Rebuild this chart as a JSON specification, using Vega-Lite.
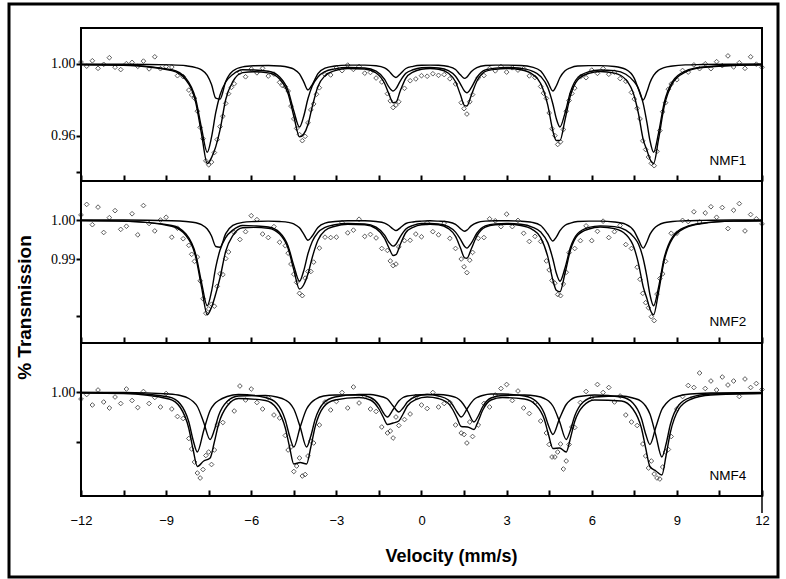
{
"$schema": "https://vega.github.io/schema/vega-lite/v6.json",
"width": 769, "height": 573,
"autosize": {"type": "none"},
"padding": {"left": 9, "top": 4, "right": 8, "bottom": 2},
"background": "white",
"config": {
 "view": {"stroke": "black", "strokeWidth": 3},
 "axis": {"grid": false, "domain": false, "ticks": true, "tickColor": "#000000", "tickOpacity": 1, "labelColor": "black", "titleColor": "black", "tickWidth": 2}
},
"datasets": {
"p1": [{"v":-12.0,"y":1.0011},{"v":-11.8,"y":0.9988},{"v":-11.6,"y":1.0018},{"v":-11.4,"y":0.9976},{"v":-11.2,"y":0.9998},{"v":-11.0,"y":1.0035},{"v":-10.8,"y":0.9982},{"v":-10.6,"y":0.9969},{"v":-10.4,"y":1.0002},{"v":-10.2,"y":1.0009},{"v":-10.0,"y":0.9987},{"v":-9.8,"y":1.0016},{"v":-9.6,"y":0.9973},{"v":-9.4,"y":1.0040},{"v":-9.2,"y":0.9974},{"v":-9.0,"y":0.9986},{"v":-8.8,"y":0.9983},{"v":-8.6,"y":0.9935},{"v":-8.4,"y":0.9930},{"v":-8.2,"y":0.9855},{"v":-8.1,"y":0.9828},{"v":-8.0,"y":0.9810},{"v":-7.9,"y":0.9738},{"v":-7.8,"y":0.9648},{"v":-7.7,"y":0.9585},{"v":-7.6,"y":0.9462},{"v":-7.5,"y":0.9440},{"v":-7.4,"y":0.9455},{"v":-7.3,"y":0.9508},{"v":-7.2,"y":0.9580},{"v":-7.1,"y":0.9652},{"v":-7.0,"y":0.9710},{"v":-6.9,"y":0.9781},{"v":-6.8,"y":0.9835},{"v":-6.7,"y":0.9870},{"v":-6.6,"y":0.9890},{"v":-6.4,"y":0.9953},{"v":-6.2,"y":0.9929},{"v":-6.0,"y":0.9972},{"v":-5.8,"y":0.9951},{"v":-5.6,"y":0.9976},{"v":-5.4,"y":0.9933},{"v":-5.2,"y":0.9944},{"v":-5.0,"y":0.9898},{"v":-4.9,"y":0.9880},{"v":-4.8,"y":0.9874},{"v":-4.7,"y":0.9850},{"v":-4.6,"y":0.9766},{"v":-4.5,"y":0.9695},{"v":-4.4,"y":0.9642},{"v":-4.3,"y":0.9608},{"v":-4.2,"y":0.9574},{"v":-4.1,"y":0.9598},{"v":-4.0,"y":0.9673},{"v":-3.9,"y":0.9745},{"v":-3.8,"y":0.9778},{"v":-3.7,"y":0.9832},{"v":-3.6,"y":0.9868},{"v":-3.4,"y":0.9941},{"v":-3.2,"y":0.9939},{"v":-3.0,"y":0.9978},{"v":-2.8,"y":0.9963},{"v":-2.6,"y":0.9994},{"v":-2.4,"y":0.9970},{"v":-2.2,"y":0.9986},{"v":-2.0,"y":0.9949},{"v":-1.8,"y":0.9953},{"v":-1.6,"y":0.9922},{"v":-1.4,"y":0.9900},{"v":-1.2,"y":0.9835},{"v":-1.1,"y":0.9795},{"v":-1.0,"y":0.9758},{"v":-0.9,"y":0.9772},{"v":-0.8,"y":0.9790},{"v":-0.6,"y":0.9865},{"v":-0.4,"y":0.9907},{"v":-0.2,"y":0.9917},{"v":0.0,"y":0.9935},{"v":0.2,"y":0.9932},{"v":0.4,"y":0.9946},{"v":0.6,"y":0.9937},{"v":0.8,"y":0.9941},{"v":1.0,"y":0.9918},{"v":1.2,"y":0.9889},{"v":1.4,"y":0.9785},{"v":1.5,"y":0.9752},{"v":1.6,"y":0.9722},{"v":1.7,"y":0.9790},{"v":1.8,"y":0.9830},{"v":2.0,"y":0.9923},{"v":2.2,"y":0.9936},{"v":2.4,"y":0.9975},{"v":2.6,"y":0.9962},{"v":2.8,"y":0.9986},{"v":3.0,"y":0.9955},{"v":3.2,"y":0.9979},{"v":3.4,"y":0.9966},{"v":3.6,"y":0.9974},{"v":3.8,"y":0.9934},{"v":4.0,"y":0.9925},{"v":4.2,"y":0.9875},{"v":4.3,"y":0.9838},{"v":4.4,"y":0.9809},{"v":4.5,"y":0.9728},{"v":4.6,"y":0.9640},{"v":4.7,"y":0.9602},{"v":4.8,"y":0.9553},{"v":4.9,"y":0.9568},{"v":5.0,"y":0.9636},{"v":5.1,"y":0.9738},{"v":5.2,"y":0.9797},{"v":5.3,"y":0.9836},{"v":5.4,"y":0.9866},{"v":5.6,"y":0.9929},{"v":5.8,"y":0.9924},{"v":6.0,"y":0.9966},{"v":6.2,"y":0.9948},{"v":6.4,"y":0.9975},{"v":6.6,"y":0.9943},{"v":6.8,"y":0.9955},{"v":7.0,"y":0.9919},{"v":7.2,"y":0.9904},{"v":7.4,"y":0.9842},{"v":7.5,"y":0.9805},{"v":7.6,"y":0.9754},{"v":7.7,"y":0.9695},{"v":7.8,"y":0.9573},{"v":7.9,"y":0.9525},{"v":8.0,"y":0.9483},{"v":8.1,"y":0.9448},{"v":8.2,"y":0.9435},{"v":8.3,"y":0.9515},{"v":8.4,"y":0.9630},{"v":8.5,"y":0.9735},{"v":8.6,"y":0.9785},{"v":8.7,"y":0.9860},{"v":8.8,"y":0.9889},{"v":9.0,"y":0.9913},{"v":9.2,"y":0.9964},{"v":9.4,"y":0.9955},{"v":9.6,"y":0.9995},{"v":9.8,"y":0.9974},{"v":10.0,"y":1.0001},{"v":10.2,"y":0.9974},{"v":10.4,"y":1.0013},{"v":10.6,"y":0.9991},{"v":10.8,"y":1.0045},{"v":11.0,"y":0.9984},{"v":11.2,"y":1.0007},{"v":11.4,"y":0.9976},{"v":11.6,"y":1.0040},{"v":11.8,"y":0.9999},{"v":12.0,"y":0.9982}],
"p2": [{"v":-12.0,"y":1.0013},{"v":-11.8,"y":1.0040},{"v":-11.6,"y":0.9988},{"v":-11.4,"y":1.0033},{"v":-11.2,"y":0.9968},{"v":-11.0,"y":1.0006},{"v":-10.8,"y":1.0024},{"v":-10.6,"y":0.9976},{"v":-10.4,"y":0.9984},{"v":-10.2,"y":1.0016},{"v":-10.0,"y":0.9962},{"v":-9.8,"y":1.0037},{"v":-9.6,"y":0.9991},{"v":-9.4,"y":0.9972},{"v":-9.2,"y":1.0000},{"v":-9.0,"y":1.0007},{"v":-8.8,"y":0.9956},{"v":-8.6,"y":0.9979},{"v":-8.4,"y":0.9952},{"v":-8.2,"y":0.9935},{"v":-8.1,"y":0.9912},{"v":-8.0,"y":0.9894},{"v":-7.9,"y":0.9905},{"v":-7.8,"y":0.9844},{"v":-7.7,"y":0.9798},{"v":-7.6,"y":0.9761},{"v":-7.5,"y":0.9772},{"v":-7.4,"y":0.9784},{"v":-7.3,"y":0.9779},{"v":-7.2,"y":0.9830},{"v":-7.1,"y":0.9862},{"v":-7.0,"y":0.9860},{"v":-6.9,"y":0.9901},{"v":-6.8,"y":0.9918},{"v":-6.6,"y":0.9968},{"v":-6.4,"y":0.9950},{"v":-6.2,"y":0.9970},{"v":-6.0,"y":1.0011},{"v":-5.8,"y":1.0001},{"v":-5.6,"y":0.9964},{"v":-5.4,"y":0.9955},{"v":-5.2,"y":0.9983},{"v":-5.0,"y":0.9943},{"v":-4.8,"y":0.9934},{"v":-4.7,"y":0.9915},{"v":-4.6,"y":0.9887},{"v":-4.5,"y":0.9861},{"v":-4.4,"y":0.9840},{"v":-4.3,"y":0.9812},{"v":-4.2,"y":0.9806},{"v":-4.1,"y":0.9851},{"v":-4.0,"y":0.9868},{"v":-3.9,"y":0.9868},{"v":-3.8,"y":0.9892},{"v":-3.6,"y":0.9928},{"v":-3.4,"y":0.9956},{"v":-3.2,"y":0.9955},{"v":-3.0,"y":0.9956},{"v":-2.8,"y":0.9993},{"v":-2.6,"y":0.9967},{"v":-2.4,"y":0.9974},{"v":-2.2,"y":1.0002},{"v":-2.0,"y":0.9958},{"v":-1.8,"y":0.9963},{"v":-1.6,"y":0.9954},{"v":-1.4,"y":0.9927},{"v":-1.2,"y":0.9922},{"v":-1.1,"y":0.9895},{"v":-1.0,"y":0.9883},{"v":-0.9,"y":0.9887},{"v":-0.8,"y":0.9931},{"v":-0.6,"y":0.9947},{"v":-0.4,"y":0.9948},{"v":-0.2,"y":0.9964},{"v":0.0,"y":0.9957},{"v":0.2,"y":0.9993},{"v":0.4,"y":0.9970},{"v":0.6,"y":0.9962},{"v":0.8,"y":0.9992},{"v":1.0,"y":0.9953},{"v":1.2,"y":0.9927},{"v":1.4,"y":0.9900},{"v":1.5,"y":0.9880},{"v":1.6,"y":0.9865},{"v":1.7,"y":0.9897},{"v":1.8,"y":0.9917},{"v":2.0,"y":0.9953},{"v":2.2,"y":0.9955},{"v":2.4,"y":1.0003},{"v":2.6,"y":0.9998},{"v":2.8,"y":0.9983},{"v":3.0,"y":1.0015},{"v":3.2,"y":0.9983},{"v":3.4,"y":0.9999},{"v":3.6,"y":0.9966},{"v":3.8,"y":0.9945},{"v":4.0,"y":0.9958},{"v":4.2,"y":0.9945},{"v":4.4,"y":0.9895},{"v":4.5,"y":0.9872},{"v":4.6,"y":0.9845},{"v":4.7,"y":0.9838},{"v":4.8,"y":0.9809},{"v":4.9,"y":0.9806},{"v":5.0,"y":0.9836},{"v":5.1,"y":0.9866},{"v":5.2,"y":0.9916},{"v":5.4,"y":0.9927},{"v":5.6,"y":0.9947},{"v":5.8,"y":0.9985},{"v":6.0,"y":0.9947},{"v":6.2,"y":0.9971},{"v":6.4,"y":0.9997},{"v":6.6,"y":0.9955},{"v":6.8,"y":0.9970},{"v":7.0,"y":0.9986},{"v":7.2,"y":0.9937},{"v":7.4,"y":0.9927},{"v":7.6,"y":0.9879},{"v":7.7,"y":0.9848},{"v":7.8,"y":0.9812},{"v":7.9,"y":0.9788},{"v":8.0,"y":0.9775},{"v":8.1,"y":0.9752},{"v":8.2,"y":0.9742},{"v":8.3,"y":0.9810},{"v":8.4,"y":0.9850},{"v":8.5,"y":0.9862},{"v":8.6,"y":0.9894},{"v":8.8,"y":0.9966},{"v":9.0,"y":0.9966},{"v":9.2,"y":0.9999},{"v":9.4,"y":0.9996},{"v":9.6,"y":1.0021},{"v":9.8,"y":0.9995},{"v":10.0,"y":1.0018},{"v":10.2,"y":1.0034},{"v":10.4,"y":1.0007},{"v":10.6,"y":1.0032},{"v":10.8,"y":0.9978},{"v":11.0,"y":1.0025},{"v":11.2,"y":1.0042},{"v":11.4,"y":0.9972},{"v":11.6,"y":1.0014},{"v":11.8,"y":1.0003},{"v":12.0,"y":0.9990}],
"p3": [{"v":-12.0,"y":0.9986},{"v":-11.8,"y":0.9995},{"v":-11.6,"y":0.9974},{"v":-11.4,"y":1.0004},{"v":-11.2,"y":0.9980},{"v":-11.0,"y":0.9968},{"v":-10.8,"y":0.9990},{"v":-10.6,"y":0.9977},{"v":-10.4,"y":1.0006},{"v":-10.2,"y":0.9983},{"v":-10.0,"y":0.9969},{"v":-9.8,"y":1.0001},{"v":-9.6,"y":0.9977},{"v":-9.4,"y":0.9989},{"v":-9.2,"y":0.9970},{"v":-9.0,"y":0.9997},{"v":-8.8,"y":0.9966},{"v":-8.6,"y":0.9951},{"v":-8.4,"y":0.9947},{"v":-8.2,"y":0.9907},{"v":-8.1,"y":0.9886},{"v":-8.0,"y":0.9860},{"v":-7.9,"y":0.9838},{"v":-7.8,"y":0.9828},{"v":-7.7,"y":0.9845},{"v":-7.6,"y":0.9873},{"v":-7.5,"y":0.9880},{"v":-7.4,"y":0.9855},{"v":-7.3,"y":0.9884},{"v":-7.2,"y":0.9934},{"v":-7.0,"y":0.9939},{"v":-6.8,"y":0.9980},{"v":-6.6,"y":0.9962},{"v":-6.4,"y":1.0012},{"v":-6.2,"y":0.9984},{"v":-6.0,"y":1.0006},{"v":-5.8,"y":0.9979},{"v":-5.6,"y":0.9966},{"v":-5.4,"y":0.9989},{"v":-5.2,"y":0.9954},{"v":-5.0,"y":0.9948},{"v":-4.8,"y":0.9913},{"v":-4.7,"y":0.9884},{"v":-4.6,"y":0.9890},{"v":-4.5,"y":0.9841},{"v":-4.4,"y":0.9852},{"v":-4.3,"y":0.9868},{"v":-4.2,"y":0.9832},{"v":-4.1,"y":0.9835},{"v":-4.0,"y":0.9872},{"v":-3.9,"y":0.9902},{"v":-3.8,"y":0.9898},{"v":-3.6,"y":0.9934},{"v":-3.4,"y":0.9980},{"v":-3.2,"y":0.9964},{"v":-3.0,"y":0.9981},{"v":-2.8,"y":0.9999},{"v":-2.6,"y":0.9968},{"v":-2.4,"y":1.0010},{"v":-2.2,"y":0.9978},{"v":-2.0,"y":0.9991},{"v":-1.8,"y":0.9966},{"v":-1.6,"y":0.9961},{"v":-1.4,"y":0.9930},{"v":-1.2,"y":0.9918},{"v":-1.1,"y":0.9922},{"v":-1.0,"y":0.9908},{"v":-0.9,"y":0.9950},{"v":-0.8,"y":0.9933},{"v":-0.6,"y":0.9945},{"v":-0.4,"y":0.9956},{"v":-0.2,"y":0.9991},{"v":0.0,"y":0.9974},{"v":0.2,"y":0.9967},{"v":0.4,"y":0.9999},{"v":0.6,"y":0.9970},{"v":0.8,"y":0.9977},{"v":1.0,"y":0.9979},{"v":1.2,"y":0.9934},{"v":1.4,"y":0.9918},{"v":1.5,"y":0.9915},{"v":1.6,"y":0.9898},{"v":1.7,"y":0.9940},{"v":1.8,"y":0.9911},{"v":2.0,"y":0.9934},{"v":2.2,"y":0.9977},{"v":2.4,"y":0.9970},{"v":2.6,"y":0.9994},{"v":2.8,"y":1.0007},{"v":3.0,"y":1.0015},{"v":3.2,"y":0.9983},{"v":3.4,"y":1.0002},{"v":3.6,"y":0.9968},{"v":3.8,"y":0.9957},{"v":4.0,"y":0.9979},{"v":4.2,"y":0.9942},{"v":4.4,"y":0.9918},{"v":4.5,"y":0.9895},{"v":4.6,"y":0.9870},{"v":4.7,"y":0.9870},{"v":4.8,"y":0.9880},{"v":4.9,"y":0.9896},{"v":5.0,"y":0.9846},{"v":5.1,"y":0.9862},{"v":5.2,"y":0.9895},{"v":5.3,"y":0.9930},{"v":5.4,"y":0.9929},{"v":5.6,"y":0.9979},{"v":5.8,"y":1.0001},{"v":6.0,"y":0.9989},{"v":6.2,"y":1.0015},{"v":6.4,"y":0.9999},{"v":6.6,"y":1.0009},{"v":6.8,"y":0.9980},{"v":7.0,"y":0.9992},{"v":7.2,"y":0.9954},{"v":7.4,"y":0.9940},{"v":7.6,"y":0.9933},{"v":7.8,"y":0.9896},{"v":7.9,"y":0.9872},{"v":8.0,"y":0.9848},{"v":8.1,"y":0.9862},{"v":8.2,"y":0.9836},{"v":8.3,"y":0.9828},{"v":8.4,"y":0.9826},{"v":8.5,"y":0.9850},{"v":8.6,"y":0.9880},{"v":8.7,"y":0.9885},{"v":8.8,"y":0.9911},{"v":9.0,"y":0.9966},{"v":9.2,"y":0.9991},{"v":9.4,"y":1.0013},{"v":9.6,"y":1.0009},{"v":9.8,"y":1.0038},{"v":10.0,"y":1.0007},{"v":10.2,"y":1.0022},{"v":10.4,"y":1.0004},{"v":10.6,"y":1.0030},{"v":10.8,"y":1.0014},{"v":11.0,"y":1.0022},{"v":11.2,"y":0.9991},{"v":11.4,"y":1.0026},{"v":11.6,"y":1.0009},{"v":11.8,"y":1.0017},{"v":12.0,"y":1.0005}],
"f1": [{"v":-12,"B":0.9997,"A":0.9999,"T":0.9996},{"v":-10.5,"B":0.9994,"A":0.9999,"T":0.9993},{"v":-8.8,"B":0.9968,"A":0.9995,"T":0.9963},{"v":-8.3,"B":0.9920,"A":0.9990,"T":0.9911},{"v":-7.95,"B":0.9801,"A":0.9980,"T":0.9782},{"v":-7.75,"B":0.9642,"A":0.9967,"T":0.9609},{"v":-7.55,"B":0.9510,"A":0.9937,"T":0.9447},{"v":-7.4,"B":0.9594,"A":0.9886,"T":0.9480},{"v":-7.25,"B":0.9731,"A":0.9810,"T":0.9541},{"v":-7.1,"B":0.9828,"A":0.9805,"T":0.9634},{"v":-6.9,"B":0.9900,"A":0.9903,"T":0.9803},{"v":-6.65,"B":0.9942,"A":0.9961,"T":0.9902},{"v":-6.3,"B":0.9968,"A":0.9984,"T":0.9952},{"v":-5.9,"B":0.9967,"A":0.9990,"T":0.9957},{"v":-5.4,"B":0.9960,"A":0.9992,"T":0.9951},{"v":-5.0,"B":0.9928,"A":0.9989,"T":0.9917},{"v":-4.7,"B":0.9852,"A":0.9982,"T":0.9834},{"v":-4.5,"B":0.9739,"A":0.9971,"T":0.9710},{"v":-4.3,"B":0.9650,"A":0.9945,"T":0.9595},{"v":-4.15,"B":0.9710,"A":0.9901,"T":0.9611},{"v":-4.0,"B":0.9808,"A":0.9856,"T":0.9664},{"v":-3.85,"B":0.9878,"A":0.9886,"T":0.9763},{"v":-3.65,"B":0.9928,"A":0.9947,"T":0.9875},{"v":-3.4,"B":0.9958,"A":0.9977,"T":0.9935},{"v":-3.05,"B":0.9973,"A":0.9989,"T":0.9963},{"v":-2.6,"B":0.9981,"A":0.9994,"T":0.9975},{"v":-2.0,"B":0.9978,"A":0.9994,"T":0.9972},{"v":-1.6,"B":0.9960,"A":0.9990,"T":0.9950},{"v":-1.3,"B":0.9914,"A":0.9978,"T":0.9892},{"v":-1.15,"B":0.9873,"A":0.9961,"T":0.9834},{"v":-1.0,"B":0.9850,"A":0.9935,"T":0.9785},{"v":-0.9,"B":0.9863,"A":0.9925,"T":0.9788},{"v":-0.75,"B":0.9905,"A":0.9945,"T":0.9850},{"v":-0.55,"B":0.9948,"A":0.9975,"T":0.9922},{"v":-0.3,"B":0.9968,"A":0.9987,"T":0.9955},{"v":0.0,"B":0.9979,"A":0.9993,"T":0.9971},{"v":0.3,"B":0.9981,"A":0.9994,"T":0.9975},{"v":0.6,"B":0.9978,"A":0.9993,"T":0.9971},{"v":0.95,"B":0.9963,"A":0.9986,"T":0.9949},{"v":1.2,"B":0.9932,"A":0.9969,"T":0.9901},{"v":1.37,"B":0.9890,"A":0.9940,"T":0.9830},{"v":1.52,"B":0.9849,"A":0.9920,"T":0.9769},{"v":1.6,"B":0.9840,"A":0.9927,"T":0.9767},{"v":1.75,"B":0.9867,"A":0.9957,"T":0.9824},{"v":1.95,"B":0.9925,"A":0.9980,"T":0.9904},{"v":2.25,"B":0.9967,"A":0.9992,"T":0.9959},{"v":2.6,"B":0.9977,"A":0.9994,"T":0.9971},{"v":3.0,"B":0.9981,"A":0.9994,"T":0.9975},{"v":3.5,"B":0.9976,"A":0.9992,"T":0.9968},{"v":3.9,"B":0.9961,"A":0.9983,"T":0.9944},{"v":4.2,"B":0.9931,"A":0.9961,"T":0.9892},{"v":4.45,"B":0.9870,"A":0.9901,"T":0.9772},{"v":4.63,"B":0.9778,"A":0.9850,"T":0.9628},{"v":4.75,"B":0.9697,"A":0.9878,"T":0.9575},{"v":4.88,"B":0.9650,"A":0.9925,"T":0.9575},{"v":5.05,"B":0.9723,"A":0.9961,"T":0.9684},{"v":5.25,"B":0.9845,"A":0.9979,"T":0.9824},{"v":5.5,"B":0.9923,"A":0.9989,"T":0.9911},{"v":5.9,"B":0.9957,"A":0.9991,"T":0.9948},{"v":6.3,"B":0.9967,"A":0.9991,"T":0.9958},{"v":6.8,"B":0.9963,"A":0.9986,"T":0.9949},{"v":7.2,"B":0.9943,"A":0.9970,"T":0.9913},{"v":7.5,"B":0.9901,"A":0.9920,"T":0.9821},{"v":7.65,"B":0.9863,"A":0.9858,"T":0.9721},{"v":7.81,"B":0.9783,"A":0.9800,"T":0.9583},{"v":7.95,"B":0.9670,"A":0.9848,"T":0.9518},{"v":8.05,"B":0.9576,"A":0.9896,"T":0.9472},{"v":8.18,"B":0.9510,"A":0.9937,"T":0.9447},{"v":8.35,"B":0.9613,"A":0.9965,"T":0.9578},{"v":8.55,"B":0.9783,"A":0.9980,"T":0.9762},{"v":8.85,"B":0.9904,"A":0.9989,"T":0.9893},{"v":9.3,"B":0.9961,"A":0.9995,"T":0.9955},{"v":9.9,"B":0.9983,"A":0.9997,"T":0.9980},{"v":11,"B":0.9993,"A":0.9999,"T":0.9992},{"v":12,"B":0.9996,"A":1.0,"T":0.9995}],
"f2": [{"v":-12,"B":0.9999,"A":1.0,"T":0.9998},{"v":-10.5,"B":0.9997,"A":1.0,"T":0.9997},{"v":-8.8,"B":0.9986,"A":0.9998,"T":0.9984},{"v":-8.3,"B":0.9964,"A":0.9996,"T":0.9960},{"v":-7.95,"B":0.9910,"A":0.9993,"T":0.9903},{"v":-7.75,"B":0.9839,"A":0.9988,"T":0.9827},{"v":-7.55,"B":0.9780,"A":0.9977,"T":0.9757},{"v":-7.4,"B":0.9817,"A":0.9959,"T":0.9776},{"v":-7.25,"B":0.9879,"A":0.9932,"T":0.9811},{"v":-7.1,"B":0.9923,"A":0.9930,"T":0.9852},{"v":-6.9,"B":0.9955,"A":0.9965,"T":0.9920},{"v":-6.65,"B":0.9974,"A":0.9986,"T":0.9960},{"v":-6.3,"B":0.9986,"A":0.9994,"T":0.9980},{"v":-5.9,"B":0.9985,"A":0.9996,"T":0.9981},{"v":-5.4,"B":0.9982,"A":0.9997,"T":0.9979},{"v":-5.0,"B":0.9968,"A":0.9996,"T":0.9964},{"v":-4.7,"B":0.9933,"A":0.9994,"T":0.9927},{"v":-4.5,"B":0.9883,"A":0.9990,"T":0.9872},{"v":-4.3,"B":0.9843,"A":0.9980,"T":0.9823},{"v":-4.15,"B":0.9870,"A":0.9964,"T":0.9834},{"v":-4.0,"B":0.9914,"A":0.9948,"T":0.9862},{"v":-3.85,"B":0.9945,"A":0.9959,"T":0.9904},{"v":-3.65,"B":0.9968,"A":0.9981,"T":0.9948},{"v":-3.4,"B":0.9981,"A":0.9992,"T":0.9973},{"v":-3.05,"B":0.9988,"A":0.9996,"T":0.9984},{"v":-2.6,"B":0.9991,"A":0.9998,"T":0.9989},{"v":-2.0,"B":0.9990,"A":0.9998,"T":0.9988},{"v":-1.6,"B":0.9982,"A":0.9996,"T":0.9978},{"v":-1.3,"B":0.9961,"A":0.9992,"T":0.9953},{"v":-1.15,"B":0.9943,"A":0.9986,"T":0.9929},{"v":-1.0,"B":0.9933,"A":0.9977,"T":0.9909},{"v":-0.9,"B":0.9938,"A":0.9973,"T":0.9911},{"v":-0.75,"B":0.9957,"A":0.9980,"T":0.9937},{"v":-0.55,"B":0.9977,"A":0.9991,"T":0.9968},{"v":-0.3,"B":0.9986,"A":0.9995,"T":0.9981},{"v":0.0,"B":0.9991,"A":0.9997,"T":0.9988},{"v":0.3,"B":0.9991,"A":0.9998,"T":0.9989},{"v":0.6,"B":0.9990,"A":0.9997,"T":0.9988},{"v":0.95,"B":0.9983,"A":0.9995,"T":0.9978},{"v":1.2,"B":0.9969,"A":0.9989,"T":0.9958},{"v":1.37,"B":0.9951,"A":0.9978,"T":0.9929},{"v":1.52,"B":0.9932,"A":0.9971,"T":0.9903},{"v":1.6,"B":0.9928,"A":0.9974,"T":0.9902},{"v":1.75,"B":0.9940,"A":0.9985,"T":0.9925},{"v":1.95,"B":0.9966,"A":0.9993,"T":0.9959},{"v":2.25,"B":0.9985,"A":0.9997,"T":0.9982},{"v":2.6,"B":0.9990,"A":0.9998,"T":0.9988},{"v":3.0,"B":0.9991,"A":0.9998,"T":0.9989},{"v":3.5,"B":0.9989,"A":0.9997,"T":0.9986},{"v":3.9,"B":0.9982,"A":0.9994,"T":0.9976},{"v":4.2,"B":0.9969,"A":0.9986,"T":0.9955},{"v":4.45,"B":0.9942,"A":0.9964,"T":0.9906},{"v":4.63,"B":0.9900,"A":0.9946,"T":0.9846},{"v":4.75,"B":0.9864,"A":0.9956,"T":0.9820},{"v":4.88,"B":0.9843,"A":0.9973,"T":0.9816},{"v":5.05,"B":0.9875,"A":0.9986,"T":0.9861},{"v":5.25,"B":0.9930,"A":0.9992,"T":0.9923},{"v":5.5,"B":0.9965,"A":0.9996,"T":0.9961},{"v":5.9,"B":0.9981,"A":0.9997,"T":0.9977},{"v":6.3,"B":0.9985,"A":0.9997,"T":0.9982},{"v":6.8,"B":0.9983,"A":0.9995,"T":0.9978},{"v":7.2,"B":0.9974,"A":0.9989,"T":0.9963},{"v":7.5,"B":0.9955,"A":0.9971,"T":0.9927},{"v":7.65,"B":0.9938,"A":0.9949,"T":0.9887},{"v":7.81,"B":0.9902,"A":0.9928,"T":0.9830},{"v":7.95,"B":0.9852,"A":0.9945,"T":0.9797},{"v":8.05,"B":0.9809,"A":0.9963,"T":0.9772},{"v":8.18,"B":0.9780,"A":0.9977,"T":0.9757},{"v":8.35,"B":0.9826,"A":0.9987,"T":0.9813},{"v":8.55,"B":0.9902,"A":0.9993,"T":0.9895},{"v":8.85,"B":0.9957,"A":0.9996,"T":0.9953},{"v":9.3,"B":0.9982,"A":0.9998,"T":0.9980},{"v":9.9,"B":0.9992,"A":0.9999,"T":0.9991},{"v":11,"B":0.9997,"A":1.0,"T":0.9997},{"v":12,"B":0.9998,"A":1.0,"T":0.9998}],
"f3": [{"v":-12,"B":0.9999,"A":0.9999,"T":0.9998},{"v":-10.5,"B":0.9998,"A":0.9999,"T":0.9997},{"v":-8.9,"B":0.9990,"A":0.9996,"T":0.9986},{"v":-8.5,"B":0.9976,"A":0.9993,"T":0.9969},{"v":-8.2,"B":0.9940,"A":0.9987,"T":0.9927},{"v":-8.05,"B":0.9904,"A":0.9981,"T":0.9885},{"v":-7.9,"B":0.9880,"A":0.9971,"T":0.9851},{"v":-7.675,"B":0.9923,"A":0.9939,"T":0.9862},{"v":-7.45,"B":0.9963,"A":0.9905,"T":0.9868},{"v":-7.3,"B":0.9976,"A":0.9924,"T":0.9900},{"v":-7.15,"B":0.9983,"A":0.9953,"T":0.9936},{"v":-6.85,"B":0.9991,"A":0.9981,"T":0.9972},{"v":-6.45,"B":0.9995,"A":0.9992,"T":0.9987},{"v":-5.5,"B":0.9989,"A":0.9993,"T":0.9983},{"v":-5.1,"B":0.9977,"A":0.9990,"T":0.9967},{"v":-4.8,"B":0.9944,"A":0.9984,"T":0.9928},{"v":-4.65,"B":0.9912,"A":0.9978,"T":0.9890},{"v":-4.5,"B":0.9890,"A":0.9966,"T":0.9856},{"v":-4.275,"B":0.9930,"A":0.9930,"T":0.9859},{"v":-4.05,"B":0.9966,"A":0.9890,"T":0.9856},{"v":-3.9,"B":0.9978,"A":0.9912,"T":0.9890},{"v":-3.75,"B":0.9985,"A":0.9945,"T":0.9930},{"v":-3.45,"B":0.9992,"A":0.9978,"T":0.9970},{"v":-3.05,"B":0.9994,"A":0.9990,"T":0.9984},{"v":-2.2,"B":0.9994,"A":0.9995,"T":0.9989},{"v":-1.8,"B":0.9989,"A":0.9995,"T":0.9984},{"v":-1.5,"B":0.9974,"A":0.9992,"T":0.9966},{"v":-1.35,"B":0.9959,"A":0.9990,"T":0.9950},{"v":-1.2,"B":0.9950,"A":0.9986,"T":0.9935},{"v":-1.0,"B":0.9965,"A":0.9972,"T":0.9938},{"v":-0.8,"B":0.9982,"A":0.9960,"T":0.9942},{"v":-0.65,"B":0.9989,"A":0.9968,"T":0.9956},{"v":-0.5,"B":0.9992,"A":0.9980,"T":0.9972},{"v":-0.2,"B":0.9994,"A":0.9991,"T":0.9985},{"v":0.2,"B":0.9995,"A":0.9995,"T":0.9990},{"v":0.6,"B":0.9992,"A":0.9995,"T":0.9987},{"v":0.95,"B":0.9984,"A":0.9993,"T":0.9977},{"v":1.1,"B":0.9974,"A":0.9991,"T":0.9965},{"v":1.25,"B":0.9960,"A":0.9988,"T":0.9948},{"v":1.4,"B":0.9950,"A":0.9981,"T":0.9931},{"v":1.625,"B":0.9968,"A":0.9962,"T":0.9930},{"v":1.85,"B":0.9985,"A":0.9940,"T":0.9925},{"v":2.0,"B":0.9990,"A":0.9952,"T":0.9942},{"v":2.15,"B":0.9993,"A":0.9970,"T":0.9963},{"v":2.45,"B":0.9996,"A":0.9988,"T":0.9984},{"v":2.85,"B":0.9996,"A":0.9993,"T":0.9989},{"v":3.63,"B":0.9992,"A":0.9994,"T":0.9986},{"v":4.03,"B":0.9982,"A":0.9992,"T":0.9974},{"v":4.33,"B":0.9957,"A":0.9987,"T":0.9945},{"v":4.48,"B":0.9932,"A":0.9982,"T":0.9914},{"v":4.63,"B":0.9915,"A":0.9972,"T":0.9887},{"v":4.865,"B":0.9947,"A":0.9941,"T":0.9888},{"v":5.1,"B":0.9975,"A":0.9905,"T":0.9880},{"v":5.25,"B":0.9984,"A":0.9924,"T":0.9908},{"v":5.4,"B":0.9989,"A":0.9952,"T":0.9941},{"v":5.7,"B":0.9992,"A":0.9980,"T":0.9972},{"v":6.1,"B":0.9994,"A":0.9990,"T":0.9984},{"v":7.05,"B":0.9990,"A":0.9992,"T":0.9982},{"v":7.45,"B":0.9978,"A":0.9988,"T":0.9966},{"v":7.75,"B":0.9947,"A":0.9981,"T":0.9928},{"v":7.9,"B":0.9916,"A":0.9972,"T":0.9888},{"v":8.05,"B":0.9895,"A":0.9956,"T":0.9851},{"v":8.26,"B":0.9930,"A":0.9913,"T":0.9842},{"v":8.47,"B":0.9965,"A":0.9870,"T":0.9834},{"v":8.62,"B":0.9977,"A":0.9896,"T":0.9873},{"v":8.77,"B":0.9985,"A":0.9935,"T":0.9919},{"v":9.07,"B":0.9992,"A":0.9974,"T":0.9966},{"v":9.47,"B":0.9996,"A":0.9989,"T":0.9985},{"v":10.2,"B":0.9998,"A":0.9996,"T":0.9994},{"v":12,"B":0.9999,"A":0.9998,"T":0.9997}]
},
"layer": [
{"data": {"name": "p1"}, "mark": {"type": "point", "shape": "diamond", "filled": false, "stroke": "black", "strokeWidth": 0.9, "size": 22},
 "encoding": {
  "x": {"field": "v", "type": "quantitative", "scale": {"domain": [-14.5374, 12.5639], "nice": false, "zero": false},
        "axis": {"orient": "bottom", "offset": -402, "values": [-12,-10.5,-9,-7.5,-6,-4.5,-3,-1.5,0,1.5,3,4.5,6,7.5,9,10.5,12], "ticks": true, "tickSize": 6, "tickColor": "#000000", "labels": false, "title": null}},
  "y": {"field": "y", "type": "quantitative", "scale": {"domain": [0.715, 1.033333], "nice": false, "zero": false},
        "axis": {"orient": "left", "offset": -72, "values": [1.0, 0.96, 0.94], "ticks": true, "tickSize": 5, "tickColor": "#000000", "labelPadding": 1, "labelFont": "Liberation Serif", "labelFontSize": 14, "labelExpr": "datum.value > 0.95 ? format(datum.value, '.2f') : ''", "title": null}}
 }},
{"data": {"name": "f1"}, "transform": [{"fold": ["T", "A", "B"], "as": ["s", "t"]}],
 "mark": {"type": "line", "color": "black", "strokeWidth": 1.4, "interpolate": "monotone"},
 "encoding": {
  "x": {"field": "v", "type": "quantitative", "scale": {"domain": [-14.5374, 12.5639], "nice": false, "zero": false}, "axis": null},
  "y": {"field": "t", "type": "quantitative", "scale": {"domain": [0.715, 1.033333], "nice": false, "zero": false}, "axis": null},
  "detail": {"field": "s", "type": "nominal"}
 }},
{"data": {"values": [{}]}, "mark": {"type": "rect", "fill": null, "fillOpacity": 0, "stroke": "black", "strokeWidth": 2},
 "encoding": {
  "x": {"datum": -12, "type": "quantitative", "scale": {"domain": [-14.5374, 12.5639], "nice": false, "zero": false}, "axis": null},
  "x2": {"datum": 12},
  "y": {"datum": 1.02, "type": "quantitative", "scale": {"domain": [0.715, 1.033333], "nice": false, "zero": false}, "axis": null},
  "y2": {"datum": 0.935}
 }},
{"data": {"values": [{}]}, "mark": {"type": "text", "font": "Liberation Sans", "fontSize": 13.5, "color": "black", "align": "center", "baseline": "middle"},
 "encoding": {
  "x": {"datum": 10.8, "type": "quantitative", "scale": {"domain": [-14.5374, 12.5639], "nice": false, "zero": false}, "axis": null},
  "y": {"datum": 0.9461, "type": "quantitative", "scale": {"domain": [0.715, 1.033333], "nice": false, "zero": false}, "axis": null},
  "text": {"value": "NMF1"}
 }},
{"data": {"name": "p2"}, "mark": {"type": "point", "shape": "diamond", "filled": false, "stroke": "black", "strokeWidth": 0.9, "size": 22},
 "encoding": {
  "x": {"field": "v", "type": "quantitative", "scale": {"domain": [-14.5374, 12.5639], "nice": false, "zero": false},
        "axis": {"orient": "bottom", "offset": -240, "values": [-12,-10.5,-9,-7.5,-6,-4.5,-3,-1.5,0,1.5,3,4.5,6,7.5,9,10.5,12], "ticks": true, "tickSize": 6, "tickColor": "#000000", "labels": false, "title": null}},
  "y": {"field": "y", "type": "quantitative", "scale": {"domain": [0.908462, 1.055385], "nice": false, "zero": false},
        "axis": {"orient": "left", "offset": -72, "values": [1.0, 0.99, 0.9754], "ticks": true, "tickSize": 5, "tickColor": "#000000", "labelPadding": 1, "labelFont": "Liberation Serif", "labelFontSize": 14, "labelExpr": "datum.value > 0.985 ? format(datum.value, '.2f') : ''",
                 "title": "% Transmission", "titleFont": "Liberation Sans", "titleFontSize": 19, "titleFontWeight": "bold", "titleX": -57, "titleY": 303, "titleAngle": 270, "titleBaseline": "middle", "titleAlign": "center"}}
 }},
{"data": {"name": "f2"}, "transform": [{"fold": ["T", "A", "B"], "as": ["s", "t"]}],
 "mark": {"type": "line", "color": "black", "strokeWidth": 1.4, "interpolate": "monotone"},
 "encoding": {
  "x": {"field": "v", "type": "quantitative", "scale": {"domain": [-14.5374, 12.5639], "nice": false, "zero": false}, "axis": null},
  "y": {"field": "t", "type": "quantitative", "scale": {"domain": [0.908462, 1.055385], "nice": false, "zero": false}, "axis": null},
  "detail": {"field": "s", "type": "nominal"}
 }},
{"data": {"values": [{}]}, "mark": {"type": "rect", "fill": null, "fillOpacity": 0, "stroke": "black", "strokeWidth": 2},
 "encoding": {
  "x": {"datum": -12, "type": "quantitative", "scale": {"domain": [-14.5374, 12.5639], "nice": false, "zero": false}, "axis": null},
  "x2": {"datum": 12},
  "y": {"datum": 1.01, "type": "quantitative", "scale": {"domain": [0.908462, 1.055385], "nice": false, "zero": false}, "axis": null},
  "y2": {"datum": 0.96846}
 }},
{"data": {"values": [{}]}, "mark": {"type": "text", "font": "Liberation Sans", "fontSize": 13.5, "color": "black", "align": "center", "baseline": "middle"},
 "encoding": {
  "x": {"datum": 10.8, "type": "quantitative", "scale": {"domain": [-14.5374, 12.5639], "nice": false, "zero": false}, "axis": null},
  "y": {"datum": 0.97385, "type": "quantitative", "scale": {"domain": [0.908462, 1.055385], "nice": false, "zero": false}, "axis": null},
  "text": {"value": "NMF2"}
 }},
{"data": {"name": "p3"}, "mark": {"type": "point", "shape": "diamond", "filled": false, "stroke": "black", "strokeWidth": 0.9, "size": 22},
 "encoding": {
  "x": {"field": "v", "type": "quantitative", "scale": {"domain": [-14.5374, 12.5639], "nice": false, "zero": false},
        "axis": {"orient": "bottom", "offset": -87, "values": [-12,-10.5,-9,-7.5,-6,-4.5,-3,-1.5,0,1.5,3,4.5,6,7.5,9,10.5,12], "ticks": true, "tickSize": 6, "tickColor": "#000000", "labelPadding": 18, "labelFont": "Liberation Sans", "labelFontSize": 13, "labelFlush": false, "labelOverlap": false,
                 "labelExpr": "datum.value % 3 == 0 ? datum.label : ''",
                 "title": "Velocity (mm/s)", "titleFont": "Liberation Sans", "titleFontSize": 18, "titleFontWeight": "bold", "titleX": 442, "titleY": 66, "titleBaseline": "middle", "titleAlign": "center"}},
  "y": {"field": "y", "type": "quantitative", "scale": {"domain": [0.963, 1.0776], "nice": false, "zero": false},
        "axis": {"orient": "left", "offset": -72, "values": [1.0, 0.99], "ticks": true, "tickSize": 5, "tickColor": "#000000", "labelPadding": 1, "labelFont": "Liberation Serif", "labelFontSize": 14, "labelExpr": "datum.value > 0.995 ? format(datum.value, '.2f') : ''", "title": null}}
 }},
{"data": {"name": "f3"}, "transform": [{"fold": ["T", "A", "B"], "as": ["s", "t"]}],
 "mark": {"type": "line", "color": "black", "strokeWidth": 1.4, "interpolate": "monotone"},
 "encoding": {
  "x": {"field": "v", "type": "quantitative", "scale": {"domain": [-14.5374, 12.5639], "nice": false, "zero": false}, "axis": null},
  "y": {"field": "t", "type": "quantitative", "scale": {"domain": [0.963, 1.0776], "nice": false, "zero": false}, "axis": null},
  "detail": {"field": "s", "type": "nominal"}
 }},
{"data": {"values": [{}]}, "mark": {"type": "rect", "fill": null, "fillOpacity": 0, "stroke": "black", "strokeWidth": 2},
 "encoding": {
  "x": {"datum": -12, "type": "quantitative", "scale": {"domain": [-14.5374, 12.5639], "nice": false, "zero": false}, "axis": null},
  "x2": {"datum": 12},
  "y": {"datum": 1.0098, "type": "quantitative", "scale": {"domain": [0.963, 1.0776], "nice": false, "zero": false}, "axis": null},
  "y2": {"datum": 0.9792}
 }},
{"data": {"values": [{}]}, "mark": {"type": "rule", "stroke": "black", "strokeWidth": 1.5},
 "encoding": {
  "x": {"datum": 12, "type": "quantitative", "scale": {"domain": [-14.5374, 12.5639], "nice": false, "zero": false}, "axis": null},
  "y": {"datum": 0.9792, "type": "quantitative", "scale": {"domain": [0.963, 1.0776], "nice": false, "zero": false}, "axis": null},
  "y2": {"datum": 0.9758}
 }},
{"data": {"values": [{}]}, "mark": {"type": "text", "font": "Liberation Sans", "fontSize": 13.5, "color": "black", "align": "center", "baseline": "middle"},
 "encoding": {
  "x": {"datum": 10.8, "type": "quantitative", "scale": {"domain": [-14.5374, 12.5639], "nice": false, "zero": false}, "axis": null},
  "y": {"datum": 0.9832, "type": "quantitative", "scale": {"domain": [0.963, 1.0776], "nice": false, "zero": false}, "axis": null},
  "text": {"value": "NMF4"}
 }}
],
"resolve": {"scale": {"y": "independent"}, "axis": {"x": "independent", "y": "independent"}}
}
